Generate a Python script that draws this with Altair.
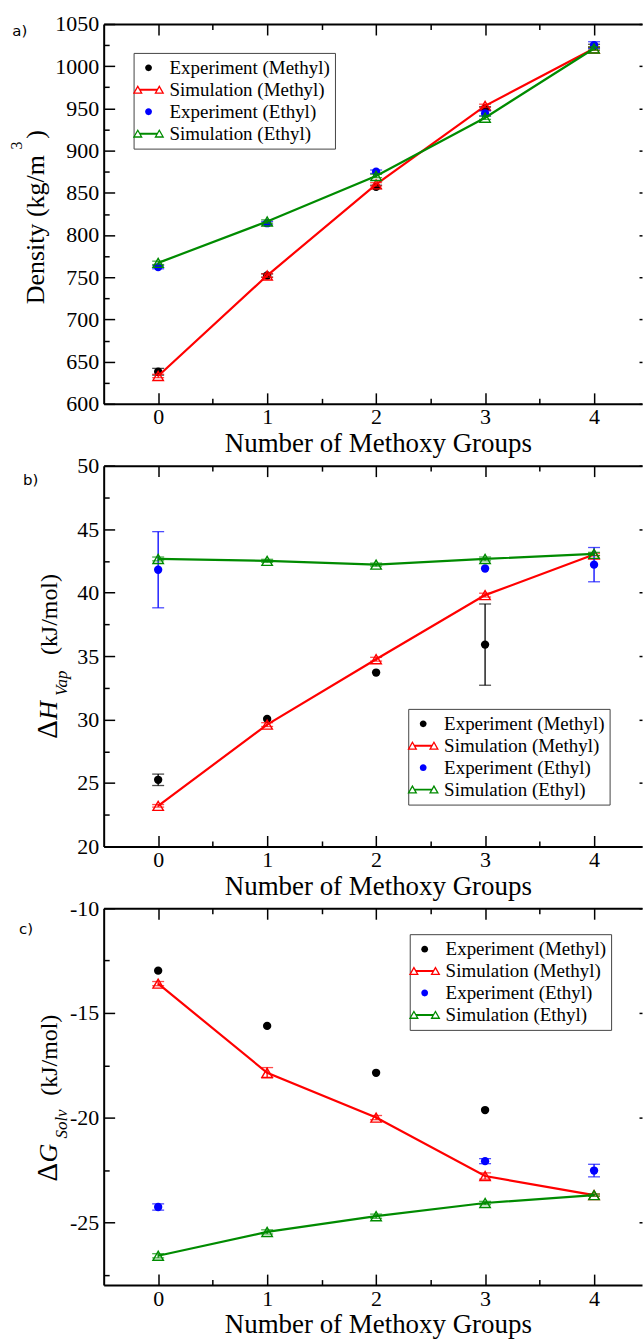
import altair as alt
import pandas as pd

N = [0, 1, 2, 3, 4]
SERIES = ["Experiment (Methyl)", "Simulation (Methyl)", "Experiment (Ethyl)", "Simulation (Ethyl)"]
COLORS = ["#000000", "#ff0000", "#0000ff", "#008b00"]

# ---- panel a: density (kg/m^3)
A_EXP_M = [638, 752, 857, 950, 1024]
A_EXP_M_ERR = [4, 2, 2, 2, 2]
A_SIM_M = [633, 752, 860, 953, 1021]
A_SIM_M_ERR = [2, 2, 2, 2, 2]
A_EXP_E = [762, 814, 875, 944, 1025]
A_EXP_E_ERR = [2, 2, 2, 3, 4]
A_SIM_E = [767, 816, 870, 939, 1021]
A_SIM_E_ERR = [2, 2, 2, 2, 2]

# ---- panel b: heat of vaporisation (kJ/mol)
B_EXP_M = [25.25, 30.05, 33.7, 35.9, None]
B_EXP_M_ERR = [0.45, 0, 0, 3.2, 0]
B_SIM_M = [23.2, 29.6, 34.75, 39.8, 43.0]
B_SIM_M_ERR = [0.1, 0.15, 0.15, 0.15, 0.1]
B_EXP_E = [41.8, None, None, 41.9, 42.2]
B_EXP_E_ERR = [3.0, 0, 0, 0, 1.35]
B_SIM_E = [42.65, 42.5, 42.2, 42.65, 43.05]
B_SIM_E_ERR = [0.15, 0.12, 0.12, 0.15, 0.12]

# ---- panel c: solvation free energy (kJ/mol)
C_EXP_M = [-12.98, -15.62, -17.86, -19.64, None]
C_EXP_M_ERR = [0, 0, 0, 0, 0]
C_SIM_M = [-13.6, -17.86, -20.0, -22.79, -23.7]
C_SIM_M_ERR = [0.1, 0.25, 0.1, 0.15, 0.05]
C_EXP_E = [-24.27, None, None, -22.08, -22.53]
C_EXP_E_ERR = [0.15, 0, 0, 0.12, 0.3]
C_SIM_E = [-26.6, -25.46, -24.71, -24.08, -23.7]
C_SIM_E_ERR = [0.1, 0.1, 0.1, 0.08, 0.05]

X_MAJOR = [0, 1, 2, 3, 4]
X_MINOR = [0.5, 1.5, 2.5, 3.5]
A_Y_MAJOR = [600, 650, 700, 750, 800, 850, 900, 950, 1000, 1050]
A_Y_MINOR = [625, 675, 725, 775, 825, 875, 925, 975, 1025]
B_Y_MAJOR = [20, 25, 30, 35, 40, 45, 50]
B_Y_MINOR = [22.5, 27.5, 32.5, 37.5, 42.5, 47.5]
C_Y_MAJOR = [-25, -20, -15, -10]
C_Y_MINOR = [-27.5, -22.5, -17.5, -12.5]

SERIF = "Liberation Serif"
W = 540

# legend symbols (custom paths): filled dot, and line with two hollow triangles
CIRCLE_PATH = "M0.34,0A0.34,0.34,0,1,1,-0.34,0A0.34,0.34,0,1,1,0.34,0Z"


def tri(cx):
    outer = f"M{cx},-0.48L{cx + 0.5},0.4L{cx - 0.5},0.4Z"
    inner = f"M{cx},-0.216L{cx - 0.275},0.268L{cx + 0.275},0.268Z"
    return outer + inner


SIM_PATH = "M-0.9,-0.1L0.9,-0.1L0.9,0.1L-0.9,0.1Z" + tri(-1.08) + tri(1.08)
SHAPES = [CIRCLE_PATH, SIM_PATH, CIRCLE_PATH, SIM_PATH]

ONE = alt.Data(values=[{"k": 0}])


def frame(exp_m, exp_m_err, sim_m, sim_m_err, exp_e, exp_e_err, sim_e, sim_e_err):
    rows = []
    vals = [exp_m, sim_m, exp_e, sim_e]
    errs = [exp_m_err, sim_m_err, exp_e_err, sim_e_err]
    for s, vs, es in zip(SERIES, vals, errs):
        for n, v, e in zip(N, vs, es):
            if v is None:
                continue
            rows.append({"n": n, "series": s, "value": v, "err": e,
                         "lo": v - e, "hi": v + e})
    return pd.DataFrame(rows)


def tick_axis(orient, values, size, offset, domain=False):
    return alt.Axis(orient=orient, values=values, offset=offset, ticks=True,
                    tickSize=size, tickWidth=1.5, tickColor="black",
                    labels=False, domain=domain, domainWidth=2,
                    domainColor="black", grid=False, title=None)


def txt(s, x, y, size, italic=False, angle=270, font=SERIF,
        baseline="alphabetic"):
    return alt.Chart(ONE).mark_text(
        text=s, font=font, fontSize=size,
        fontStyle="italic" if italic else "normal", angle=angle,
        align="left", baseline=baseline, color="black"
    ).encode(x=alt.value(x), y=alt.value(y))


def panel(df, ydom, ymaj, ymin, H, legxy, extra):
    xs = alt.Scale(domain=[-0.5, 4.44], nice=False, zero=False)
    ys = alt.Scale(domain=ydom, nice=False, zero=False)
    cs = alt.Scale(domain=SERIES, range=COLORS)
    col = alt.Color("series:N", scale=cs, legend=None)

    x_lab = alt.Axis(orient="bottom", values=X_MAJOR, ticks=False, tickSize=0,
                     domain=True, domainColor="black", domainWidth=2,
                     labels=True, labelFont=SERIF, labelFontSize=22,
                     labelColor="black", labelPadding=3, labelFlush=False,
                     labelOverlap=False, grid=False,
                     title="Number of Methoxy Groups", titleFont=SERIF,
                     titleFontSize=27, titleFontWeight="normal",
                     titleColor="black", titlePadding=3, titleX=275)
    y_lab = alt.Axis(orient="left", values=ymaj, ticks=False, tickSize=0,
                     domain=True, domainColor="black", domainWidth=2,
                     labels=True, labelFont=SERIF, labelFontSize=22,
                     labelColor="black", labelPadding=5, labelFlush=False,
                     labelOverlap=False, grid=False, title=None,
                     labelExpr="datum.value + ''")

    leg = alt.Legend(orient="none", legendX=legxy[0], legendY=legxy[1],
                     title=None, padding=5, strokeColor="#444444",
                     fillColor="white", cornerRadius=0,
                     labelFont=SERIF, labelFontSize=19, labelColor="black",
                     labelLimit=0, labelOffset=11, symbolSize=400,
                     symbolStrokeWidth=0, symbolOpacity=1, rowPadding=2)

    base = alt.Chart(df)

    def X(ax):
        return alt.X("n:Q", scale=xs, axis=ax)

    def Y(ax):
        return alt.Y("value:Q", scale=ys, axis=ax)

    def sub(s):
        return base.transform_filter(alt.datum.series == s)

    def ebar(s):
        return sub(s).transform_filter(alt.datum.err > 0).mark_errorbar(
            ticks=True, size=12, thickness=1.3
        ).encode(x=X(None), y=alt.Y("lo:Q", scale=ys, axis=None),
                 y2="hi:Q", color=col)

    legend_layer = base.mark_point(filled=True, opacity=0).encode(
        x=X(x_lab), y=Y(y_lab),
        color=alt.Color("series:N", scale=cs, legend=leg),
        shape=alt.Shape("series:N", scale=alt.Scale(domain=SERIES, range=SHAPES),
                        legend=leg),
    )

    def dots(s, xa=None, ya=None):
        return sub(s).mark_point(shape="circle", filled=True, size=70,
                                 opacity=1).encode(x=X(xa), y=Y(ya), color=col)

    def line(s, xa=None, ya=None):
        return sub(s).mark_line(strokeWidth=2.2).encode(
            x=X(xa), y=Y(ya), color=col, order="n:Q")

    def tris(s, xa=None, ya=None):
        return sub(s).mark_point(shape="triangle-up", filled=False, size=110,
                                 strokeWidth=1.4, opacity=1).encode(
            x=X(xa), y=Y(ya), color=col)

    layers = [
        legend_layer,
        ebar(SERIES[0]),
        dots(SERIES[0], tick_axis("top", X_MAJOR, 11, -H),
             tick_axis("right", ymaj, 11, -W)),
        line(SERIES[1], tick_axis("top", X_MINOR, 5.5, -H),
             tick_axis("right", ymin, 5.5, -W)),
        ebar(SERIES[1]),
        tris(SERIES[1], tick_axis("bottom", X_MAJOR, 11, -H, domain=True),
             tick_axis("left", ymaj, 3, -W)),
        ebar(SERIES[2]),
        dots(SERIES[2], tick_axis("bottom", X_MINOR, 5.5, -H)),
        line(SERIES[3]),
        ebar(SERIES[3]),
        tris(SERIES[3]),
    ] + extra

    return alt.layer(*layers).resolve_axis(
        x="independent", y="independent"
    ).properties(width=W, height=H)


df_a = frame(A_EXP_M, A_EXP_M_ERR, A_SIM_M, A_SIM_M_ERR,
             A_EXP_E, A_EXP_E_ERR, A_SIM_E, A_SIM_E_ERR)
df_b = frame(B_EXP_M, B_EXP_M_ERR, B_SIM_M, B_SIM_M_ERR,
             B_EXP_E, B_EXP_E_ERR, B_SIM_E, B_SIM_E_ERR)
df_c = frame(C_EXP_M, C_EXP_M_ERR, C_SIM_M, C_SIM_M_ERR,
             C_EXP_E, C_EXP_E_ERR, C_SIM_E, C_SIM_E_ERR)

extra_a = [
    txt("Density (kg/m", -60.3, 281, 26),
    txt("3", -81.6, 126, 16),
    txt(")", -60.3, 115, 26),
    txt("a)", -91.6, 7, 15, angle=0, font="DejaVu Sans", baseline="middle"),
]
extra_b = [
    txt("\u0394", -46.6, 274, 29),
    txt("H", -46.6, 255, 26, italic=True),
    txt("Vap", -37, 231, 17, italic=True),
    txt("(kJ/mol)", -46.6, 190, 24),
    txt("b)", -81, 14, 15, angle=0, font="DejaVu Sans", baseline="middle"),
]
extra_c = [
    txt("\u0394", -46.6, 274, 29),
    txt("G", -46.6, 255, 26, italic=True),
    txt("Solv", -37, 231, 17, italic=True),
    txt("(kJ/mol)", -46.6, 188, 24),
    txt("c)", -85, 21, 15, angle=0, font="DejaVu Sans", baseline="middle"),
]

pa = panel(df_a, [600, 1050], A_Y_MAJOR, A_Y_MINOR, 381, (30, 29), extra_a)
pb = panel(df_b, [20, 50], B_Y_MAJOR, B_Y_MINOR, 382, (305.5, 244), extra_b)
pc = panel(df_c, [-28, -10], C_Y_MAJOR, C_Y_MINOR, 378, (307, 26), extra_c)

chart = alt.vconcat(pa, pb, pc, spacing=62, bounds="flush").resolve_scale(
    color="independent", shape="independent"
).resolve_legend(
    color="independent", shape="independent"
).configure_view(stroke=None).properties(
    padding={"left": 9, "top": 11, "right": 0, "bottom": 0},
    background="white",
)

chart.save("out.html", embed_options={"renderer": "svg", "actions": False})
